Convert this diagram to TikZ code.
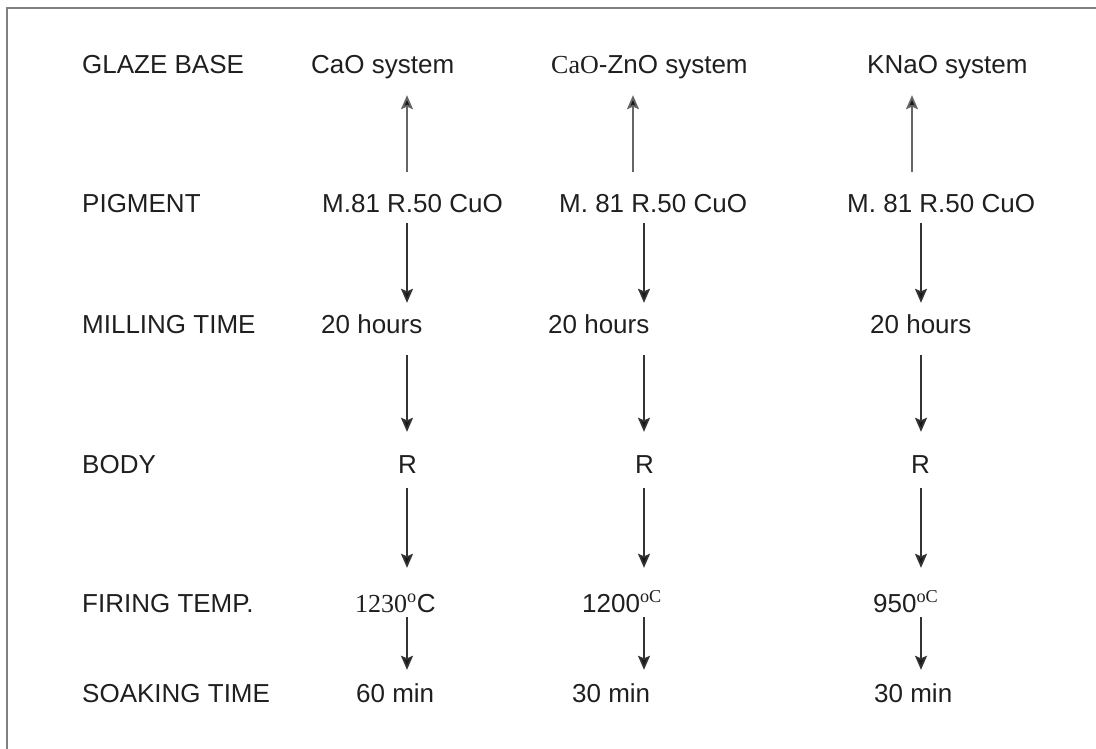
\documentclass[tikz,border=0pt]{standalone}
\usepackage{fontspec}
\setmainfont{Liberation Sans}
\newfontfamily\tnr{Liberation Serif}
\usetikzlibrary{arrows.meta}
\begin{document}
\begin{tikzpicture}[x=1pt,y=-1pt,
  txt/.style={anchor=base west,inner sep=0pt,text height=19pt,text depth=0pt,font=\fontsize{26}{30}\selectfont,text=black!88},
  arr/.style={line width=1.7pt,draw=black!80,-{Stealth[length=14pt,width=12pt,inset=2.5pt,fill=black!90]}},
  uparr/.style={line width=1.8pt,draw=black!60,-{Stealth[length=14pt,width=12pt,inset=2.5pt,fill=black!90]}}]
\useasboundingbox (0,0) rectangle (1096,749);
\draw[line width=2pt,draw=black!50] (7,749) -- (7,8) -- (1096,8);
% column x
\coordinate (xa) at (407,0);
\coordinate (xb) at (644,0);
\coordinate (xbu) at (633,0);
\coordinate (xc) at (921,0);
\coordinate (xcu) at (912,0);
% labels
\node[txt] (l1) at (82,74) {GLAZE BASE};
\node[txt] (l2) at (82,212) {PIGMENT};
\node[txt] (l3) at (82,333) {MILLING TIME};
\node[txt] (l4) at (82,473) {BODY};
\node[txt] (l5) at (82,612) {FIRING TEMP.};
\node[txt] (l6) at (82,702) {SOAKING TIME};
% column 1
\node[txt] (g1) at (311,74) {CaO system};
\node[txt] (p1) at (322,212) {M.81 R.50 CuO};
\node[txt] (m1) at (321,333) {20 hours};
\node[txt] (b1) at (398,473) {R};
\node[txt] (f1) at (355,612) {{\tnr 1230}\textsuperscript{\tnr o}C};
\node[txt] (s1) at (356,702) {60 min};
% column 2
\node[txt] (g2) at (551,74) {{\tnr CaO}-ZnO system};
\node[txt] (p2) at (559,212) {M. 81 R.50 CuO};
\node[txt] (m2) at (548,333) {20 hours};
\node[txt] (b2) at (635,473) {R};
\node[txt] (f2) at (582,612) {1200\textsuperscript{\tnr oC}};
\node[txt] (s2) at (572,702) {30 min};
% column 3
\node[txt] (g3) at (867,74) {KNaO system};
\node[txt] (p3) at (847,212) {M. 81 R.50 CuO};
\node[txt] (m3) at (870,333) {20 hours};
\node[txt] (b3) at (911,473) {R};
\node[txt] (f3) at (873,612) {950\textsuperscript{\tnr oC}};
\node[txt] (s3) at (874,702) {30 min};
% arrows column 1
\draw[uparr] ([yshift=21pt]p1.north -| xa) -- ([yshift=-21pt]g1.south -| xa);
\draw[arr] ([yshift=-11pt]p1.south -| xa) -- ([yshift=11pt]m1.north -| xa);
\draw[arr] ([yshift=-22pt]m1.south -| xa) -- ([yshift=22pt]b1.north -| xa);
\draw[arr] ([yshift=-15pt]b1.south -| xa) -- ([yshift=25pt]f1.north -| xa);
\draw[arr] ([yshift=-5pt]f1.south -| xa) -- ([yshift=13pt]s1.north -| xa);
% arrows column 2
\draw[uparr] ([yshift=21pt]p2.north -| xbu) -- ([yshift=-21pt]g2.south -| xbu);
\draw[arr] ([yshift=-11pt]p2.south -| xb) -- ([yshift=11pt]m2.north -| xb);
\draw[arr] ([yshift=-22pt]m2.south -| xb) -- ([yshift=22pt]b2.north -| xb);
\draw[arr] ([yshift=-15pt]b2.south -| xb) -- ([yshift=25pt]f2.north -| xb);
\draw[arr] ([yshift=-5pt]f2.south -| xb) -- ([yshift=13pt]s2.north -| xb);
% arrows column 3
\draw[uparr] ([yshift=21pt]p3.north -| xcu) -- ([yshift=-21pt]g3.south -| xcu);
\draw[arr] ([yshift=-11pt]p3.south -| xc) -- ([yshift=11pt]m3.north -| xc);
\draw[arr] ([yshift=-22pt]m3.south -| xc) -- ([yshift=22pt]b3.north -| xc);
\draw[arr] ([yshift=-15pt]b3.south -| xc) -- ([yshift=25pt]f3.north -| xc);
\draw[arr] ([yshift=-5pt]f3.south -| xc) -- ([yshift=13pt]s3.north -| xc);
\end{tikzpicture}
\end{document}
